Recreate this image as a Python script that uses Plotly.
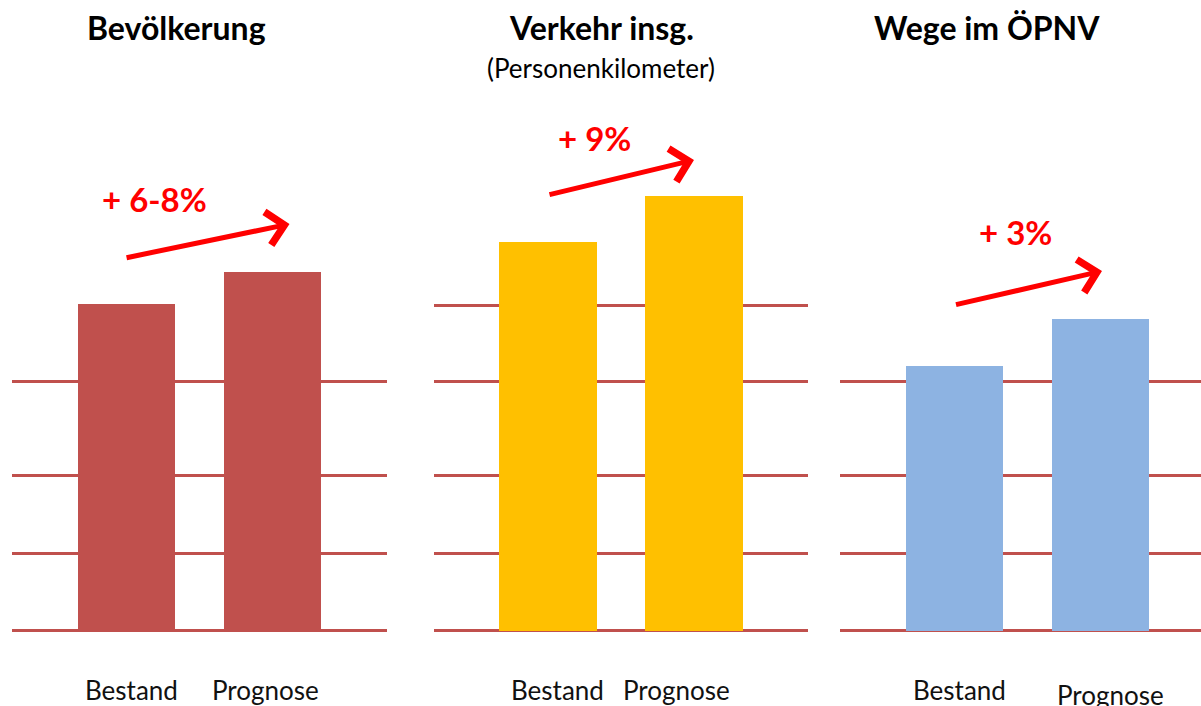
import plotly.graph_objects as go

# ---- data ----
categories = ["Bestand", "Prognose"]
panel_titles = ["Bevölkerung", "Verkehr insg.", "Wege im ÖPNV"]
panel_subtitles = ["", "(Personenkilometer)", ""]
bevoelkerung = [326.5, 358.5]
verkehr = [388.5, 434.5]
oepnv = [264.5, 311.5]
change_labels = ["+ 6-8%", "+ 9%", "+ 3%"]
grid_levels_1 = [0, 77.5, 155.5, 249]
grid_levels_2 = [0, 77.5, 155.5, 249, 325.5]
grid_levels_3 = [0, 77.5, 155.5, 249]

series = [bevoelkerung, verkehr, oepnv]
grids = [grid_levels_1, grid_levels_2, grid_levels_3]
colors = ["#C0504D", "#FFC000", "#8DB3E2"]
grid_color = "#C0504D"

W, H = 1201, 706
B = 70
PH = H - B  # plot-area height; paper coords refer to it
x_domains = [[12 / W, 387 / W], [434 / W, 808 / W], [840 / W, 1.0]]
x_ranges = [[-0.787, 1.790], [-0.781, 1.781], [-0.784, 1.688]]
# arrow offsets above bars (tail over Bestand, head over Prognose)
arrow_tail_off = [46, 47, 61]
arrow_head_off = [48, 36, 48]
arrow_head_x = [1.12, 1.0, 1.01]
arrow_tail_x = [-0.01, 0.0, 0.0]
label_pos = [(154, 199), (594, 138), (1015, 232)]
title_x = [176, 601, 987]
tick_label_pos = [[(131, 690), (265, 690)], [(557, 690), (676, 690)], [(959, 690), (1110, 695)]]


def py2paper(py):
    return (PH - py) / PH


fig = go.Figure()
annotations = []
for i in range(3):
    xa = "x" if i == 0 else f"x{i+1}"
    ya = "y" if i == 0 else f"y{i+1}"
    fig.add_trace(go.Bar(
        x=categories, y=series[i], xaxis=xa, yaxis=ya,
        marker=dict(color=colors[i], line=dict(width=0)),
        width=0.667, showlegend=False, hoverinfo="skip",
    ))
    key = "" if i == 0 else str(i + 1)
    fig.layout["xaxis" + key] = dict(
        domain=x_domains[i], anchor=ya, range=x_ranges[i],
        type="category", showgrid=False, zeroline=False, showline=False,
        ticks="", showticklabels=False, fixedrange=True,
    )
    fig.layout["yaxis" + key] = dict(
        domain=[0, 1], anchor=xa, range=[-5.5, 630.5],
        tickvals=grids[i], showticklabels=False, showgrid=True,
        gridcolor=grid_color, gridwidth=3, zeroline=False, showline=False,
        ticks="", fixedrange=True,
    )
    # category labels
    for j, cat in enumerate(categories):
        px_, py_ = tick_label_pos[i][j]
        annotations.append(dict(
            x=px_ / W, y=py2paper(py_), xref="paper", yref="paper",
            text=cat, showarrow=False,
            font=dict(family="Lato", size=26, color="#111111"),
            xanchor="center", yanchor="middle",
        ))
    # arrow
    annotations.append(dict(
        x=arrow_head_x[i], y=series[i][1] + arrow_head_off[i],
        ax=arrow_tail_x[i], ay=series[i][0] + arrow_tail_off[i],
        xref=xa, yref=ya, axref=xa, ayref=ya,
        text="", showarrow=True, arrowhead=4, arrowsize=1.3,
        arrowwidth=5, arrowcolor="#FF0000",
    ))
    # change label
    annotations.append(dict(
        x=label_pos[i][0] / W, y=py2paper(label_pos[i][1]),
        xref="paper", yref="paper", text=f"<b>{change_labels[i]}</b>",
        showarrow=False, font=dict(family="Lato", size=33, color="#FF0000"),
        xanchor="center", yanchor="middle",
    ))
    # title
    annotations.append(dict(
        x=title_x[i] / W, y=py2paper(27), xref="paper", yref="paper",
        text=f"<b>{panel_titles[i]}</b>", showarrow=False,
        font=dict(family="Lato", size=32, color="#000000"),
        xanchor="center", yanchor="middle",
    ))
    if panel_subtitles[i]:
        annotations.append(dict(
            x=title_x[i] / W, y=py2paper(68), xref="paper", yref="paper",
            text=panel_subtitles[i], showarrow=False,
            font=dict(family="Lato", size=26, color="#000000"),
            xanchor="center", yanchor="middle",
        ))

fig.update_layout(
    width=W, height=H,
    margin=dict(l=0, r=0, t=0, b=B),
    paper_bgcolor="white", plot_bgcolor="white",
    annotations=annotations, bargap=0,
)

fig.write_html(
    "out.html",
    config={"displayModeBar": False},
    post_script="document.body.style.margin='0';document.body.style.overflow='hidden';",
)
